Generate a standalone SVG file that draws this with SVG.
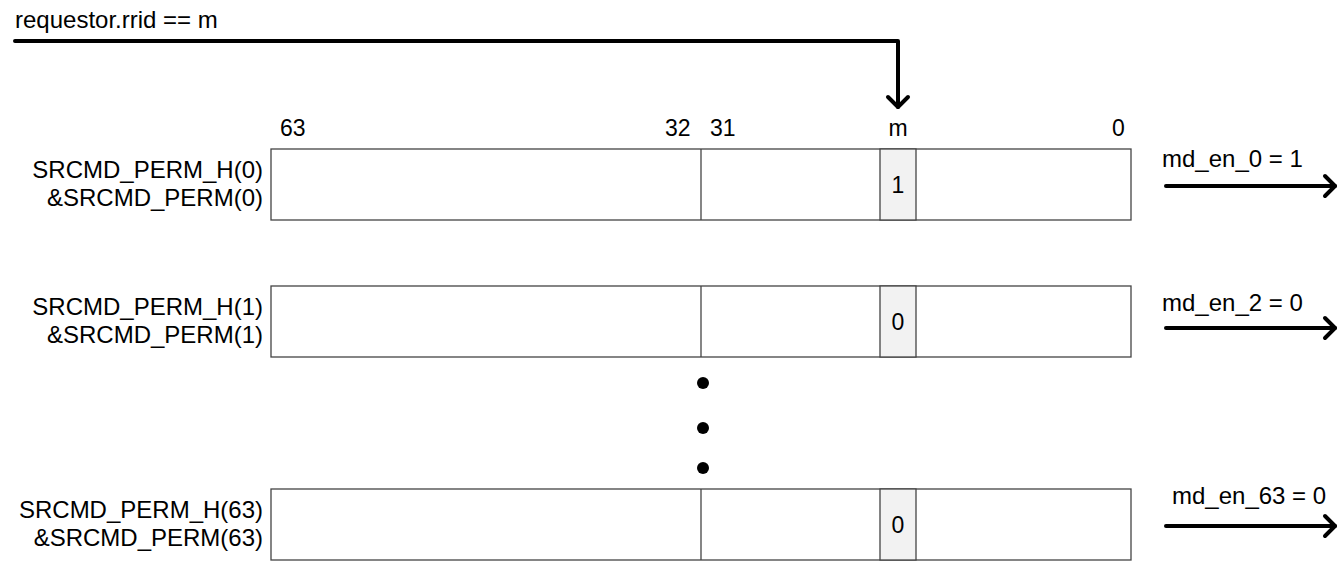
<svg xmlns="http://www.w3.org/2000/svg" width="1341" height="565" viewBox="0 0 1341 565">
<defs>
<style>
text{font-family:"Liberation Sans",Arial,sans-serif;font-size:23px;fill:#000}
.big{font-size:24px}
.lbl{text-anchor:end;font-size:24px}
.mid{text-anchor:middle}
.box{fill:#fff;stroke:#444;stroke-width:1.3}
.cell{fill:#f2f2f2;stroke:#444;stroke-width:1.3}
.div{stroke:#444;stroke-width:1.3}
.conn{fill:none;stroke:#000;stroke-width:4;stroke-linecap:round;stroke-linejoin:round}
</style>
<marker id="chev" viewBox="0 0 12 12" refX="10" refY="6" markerWidth="12" markerHeight="12" markerUnits="userSpaceOnUse" orient="auto" overflow="visible">
<path d="M0,-4 L10,6 L0,16" fill="none" stroke="#000" stroke-width="4" stroke-linecap="round" stroke-linejoin="round"/>
</marker>
</defs>
<rect width="1341" height="565" fill="#fff"/>
<text x="15" y="28" class="big">requestor.rrid == m</text>
<g id="bit-labels">
<text x="280" y="136">63</text>
<text x="665" y="136">32</text>
<text x="710" y="136">31</text>
<text x="898" y="136" class="mid">m</text>
<text x="1112" y="136">0</text>
</g>
<g id="row0">
<text x="263" y="178" class="lbl">SRCMD_PERM_H(0)</text>
<text x="263" y="206" class="lbl">&amp;SRCMD_PERM(0)</text>
<rect class="box" x="271" y="149" width="860" height="71"/>
<line class="div" x1="701" y1="149" x2="701" y2="220"/>
<rect class="cell" x="880" y="149" width="36" height="71"/>
<text x="898" y="193" class="mid">1</text>
</g>
<g id="row1">
<text x="263" y="315" class="lbl">SRCMD_PERM_H(1)</text>
<text x="263" y="343" class="lbl">&amp;SRCMD_PERM(1)</text>
<rect class="box" x="271" y="286" width="860" height="71"/>
<line class="div" x1="701" y1="286" x2="701" y2="357"/>
<rect class="cell" x="880" y="286" width="36" height="71"/>
<text x="898" y="330" class="mid">0</text>
</g>
<g id="ellipsis">
<circle cx="703" cy="383" r="6"/>
<circle cx="703" cy="428" r="6"/>
<circle cx="703" cy="468" r="6"/>
</g>
<g id="row63">
<text x="263" y="518" class="lbl">SRCMD_PERM_H(63)</text>
<text x="263" y="546" class="lbl">&amp;SRCMD_PERM(63)</text>
<rect class="box" x="271" y="489" width="860" height="71"/>
<line class="div" x1="701" y1="489" x2="701" y2="560"/>
<rect class="cell" x="880" y="489" width="36" height="71"/>
<text x="898" y="533" class="mid">0</text>
</g>
<g id="outputs">
<text x="1162" y="167" class="big">md_en_0 = 1</text>
<text x="1162" y="311" class="big">md_en_2 = 0</text>
<text x="1172" y="504" class="big">md_en_63 = 0</text>
</g>
<g id="connectors">
<path class="conn" d="M15,41 H898 V107" marker-end="url(#chev)"/>
<path class="conn" d="M1166,186 H1335" marker-end="url(#chev)"/>
<path class="conn" d="M1166,328 H1335" marker-end="url(#chev)"/>
<path class="conn" d="M1166,526 H1335" marker-end="url(#chev)"/>
</g>
</svg>
